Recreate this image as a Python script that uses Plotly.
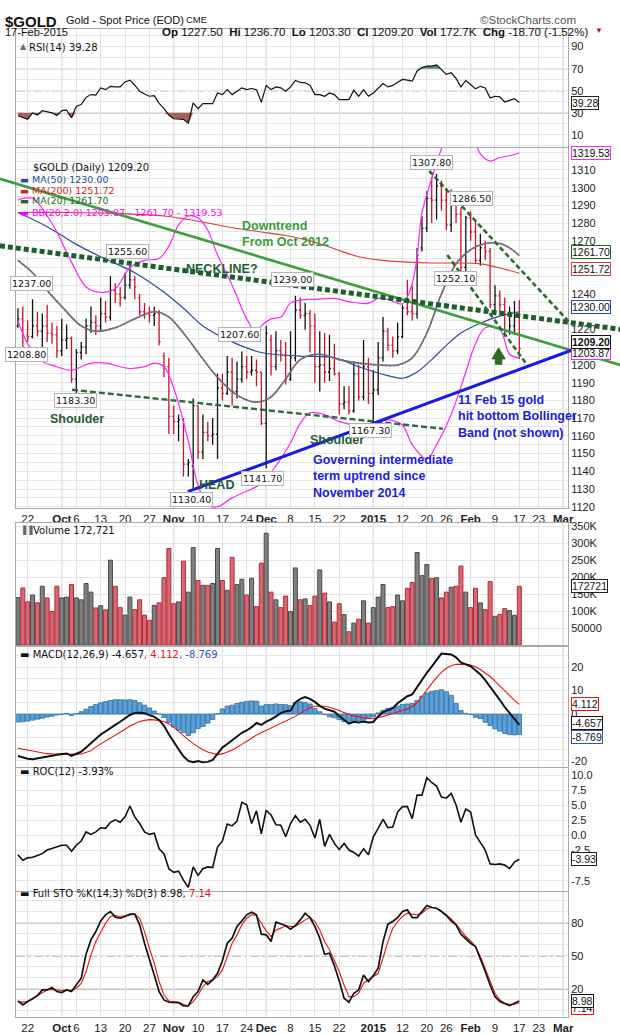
import pandas as pd
import plotly.graph_objects as go
from plotly.subplots import make_subplots

# ---------------- data ----------------
holidays = ["2014-11-27", "2014-12-25", "2015-01-01", "2015-01-19", "2015-02-16"]
axis_days = [d.strftime("%Y-%m-%d") for d in pd.bdate_range("2014-09-18", "2015-03-02")]
axis_days = [d for d in axis_days if d not in holidays]
dates = [d for d in axis_days if d <= "2015-02-17"]

opens = [1222, 1226, 1217, 1216, 1222, 1219, 1222, 1218, 1217, 1208, 1214, 1215, 1192, 1207, 1210, 1222, 1224, 1222, 1229, 1227,
         1242, 1240, 1238, 1245, 1248, 1238, 1230, 1229, 1228, 1229, 1205, 1199, 1171, 1168, 1169, 1144, 1143, 1177, 1151, 1162,
         1160, 1161, 1187, 1184, 1196, 1185, 1192, 1199, 1196, 1197, 1196, 1167, 1214, 1199, 1208, 1206, 1192, 1204, 1231, 1228,
         1229, 1222, 1199, 1200, 1196, 1198, 1195, 1178, 1179, 1174, 1195, 1182, 1199, 1184, 1186, 1204, 1219, 1211, 1208, 1216,
         1232, 1230, 1229, 1266, 1277, 1294, 1293, 1301, 1293, 1279, 1292, 1285, 1255, 1283, 1275, 1259, 1266, 1264, 1234, 1239,
         1234, 1219, 1222, 1227.5]
highs = [1232, 1233, 1225, 1237, 1230, 1229, 1234, 1224, 1222, 1226, 1223, 1216, 1209, 1213, 1226, 1233, 1228, 1238, 1236, 1250,
         1246, 1244, 1252, 1255.6, 1250, 1240, 1235, 1233, 1233, 1231, 1207, 1204, 1177, 1172, 1170, 1147, 1181, 1177, 1172, 1168,
         1170, 1195, 1195, 1205, 1204, 1202, 1207.6, 1205, 1205, 1203, 1196, 1222, 1217, 1219, 1214, 1213, 1219, 1239, 1238, 1235,
         1231, 1229, 1219, 1218, 1217, 1212, 1196, 1188, 1188, 1202, 1200, 1214, 1204, 1197, 1213, 1227, 1221, 1216, 1224, 1234,
         1248, 1245, 1266, 1284, 1298, 1306, 1307.8, 1304, 1300, 1299, 1296, 1289, 1284, 1286.5, 1281, 1274, 1270, 1266, 1245, 1242,
         1238, 1233, 1236, 1236.7]
lows = [1221, 1208.8, 1213, 1215, 1216, 1210, 1213, 1212, 1204, 1205, 1209, 1190, 1183.3, 1203, 1206, 1218, 1217, 1219, 1224, 1225,
        1235, 1233, 1237, 1243, 1237, 1228, 1226, 1224, 1222, 1211, 1193, 1161, 1161, 1157, 1137, 1137, 1130.4, 1147, 1147, 1157,
        1155, 1147, 1180, 1183, 1177, 1181, 1190, 1192, 1194, 1188, 1166, 1141.7, 1194, 1197, 1202, 1189, 1191, 1202, 1226, 1220,
        1207, 1190, 1185, 1190, 1191, 1194, 1172, 1175, 1172, 1173, 1180, 1180, 1178, 1167.3, 1183, 1202, 1208, 1204, 1206, 1215,
        1228, 1225, 1226, 1264, 1275, 1280, 1282, 1287, 1276, 1275, 1280, 1252.1, 1253, 1270, 1257, 1256, 1259, 1232, 1228, 1229,
        1216, 1217, 1217, 1203.3]
closes = [1226, 1217, 1216, 1222, 1219, 1222, 1218, 1217, 1208, 1214, 1215, 1192, 1207, 1210, 1222, 1224, 1222, 1229, 1227, 1242,
          1240, 1238, 1245, 1248, 1244, 1230, 1229, 1228, 1229, 1213, 1199, 1171, 1168, 1169, 1144, 1145, 1177, 1151, 1162, 1160,
          1161, 1187, 1184, 1196, 1185, 1192, 1199, 1196, 1197, 1196, 1167, 1218, 1199, 1208, 1206, 1192, 1204, 1231, 1228, 1229,
          1222, 1199, 1200, 1196, 1198, 1195, 1178, 1179, 1174, 1195, 1182, 1199, 1184, 1186, 1204, 1219, 1211, 1208, 1216, 1232,
          1230, 1229, 1262, 1277, 1294, 1293, 1301, 1293, 1279, 1292, 1285, 1255, 1283, 1275, 1259, 1266, 1264, 1234, 1239, 1234,
          1219, 1222, 1227.9, 1209.2]
volume_k = [139.5, 168, 127, 147, 124, 173, 138.6, 98.7, 173, 138.6, 141, 178, 138.6, 133, 181, 155.6, 109, 115.8, 103.4, 249.6,
            172.7, 110, 88, 141, 104, 133, 88, 73, 116.7, 124, 198, 283.8, 121.5, 127, 246.7, 155.6, 286.6, 189.8, 175.6, 175.6,
            181, 283.8, 189.8, 161, 258, 178, 193.6, 147, 196.4, 113, 241, 329, 155.6, 133, 110, 144, 98.7, 226.8, 133, 135.7,
            115.8, 144, 221, 152.8, 127, 67.4, 121.5, 90, 39, 64.5, 76, 130, 64.5, 110, 141, 178, 110, 113, 147, 130,
            167, 184, 272, 204, 237, 195.5, 198, 138.6, 155.6, 170, 172.7, 232.5, 155.6, 110, 167, 124, 104, 187, 84.5, 90,
            107, 101.5, 87.3, 172.721]
rsi = [27.3, 25.5, 24, 29.8, 28, 32, 31, 30, 27.5, 32, 32.5, 25.5, 36, 37.5, 44, 46.5, 46, 52.6, 51, 54,
       53.5, 53.5, 58, 59.6, 55, 49.5, 47, 45, 45.5, 38.5, 34, 28, 24.6, 24.6, 24, 20.5, 39, 33.7, 38.3, 38.3,
       38.3, 48, 46.5, 51, 46.5, 49.6, 52.6, 51, 52, 51, 39.5, 54.8, 51, 53.5, 52.6, 49.6, 53.5, 59.3, 57.5, 57.2,
       55, 46.5, 46.5, 45, 48, 46.5, 42, 42, 42, 50.5, 45, 51, 45, 48, 52.6, 56.6, 53.5, 54.8, 57.8, 60.2,
       59.6, 58.7, 67.9, 71, 72.4, 72.4, 73.4, 69.4, 64.8, 66.3, 61.2, 53.5, 59.3, 55.7, 51.7, 54, 52.6, 43.5, 45, 44.4,
       39.8, 41.3, 42.9, 39.28]
macd = [-17.9, -18.6, -19.1, -19.3, -19.0, -18.6, -18.2, -17.8, -17.4, -17.1, -16.8, -17.8, -17.0, -16.0, -14.3, -12.3, -10.3, -8.7, -7.4, -5.9,
        -4.6, -3.3, -1.8, -0.4, 0.5, 0.6, 0.3, -0.3, -1.2, -2.5, -5.0, -8.6, -12.0, -15.0, -18.0, -20.0, -20.5, -20.0, -20.6, -20.4,
        -19.6, -17.0, -14.3, -12.8, -11.3, -9.8, -8.0, -7.0, -5.6, -3.8, -4.6, -3.2, -2.3, -1.0, 0.4, 1.2, 1.5, 5.0, 6.5, 7.2,
        6.5, 5.2, 3.5, 2.3, 1.5, 1.0, -0.8, -2.5, -4.1, -3.3, -3.6, -3.2, -3.6, -3.4, -1.0, 0.8, 1.8, 2.5, 4.6, 6.2,
        7.6, 8.4, 11.5, 14.8, 17.6, 20.2, 23.0, 25.8, 25.6, 25.4, 24.2, 22.0, 21.2, 20.4, 18.7, 16.9, 14.5, 11.8, 8.9, 6.0,
        3.0, 0.5, -1.8, -4.657]
macd_signal = [-14.6, -15.0, -15.5, -16.0, -16.4, -16.7, -16.9, -17.0, -17.1, -17.2, -17.2, -17.3, -17.2, -17.0, -16.5, -15.7, -14.0, -12.8, -11.6, -10.3,
               -9.0, -7.8, -6.5, -5.1, -4.0, -3.2, -2.7, -2.4, -2.5, -2.8, -3.2, -4.2, -5.6, -7.4, -9.3, -11.0, -12.6, -14.0, -15.2, -16.2,
               -16.9, -17.3, -17.0, -16.2, -15.3, -14.2, -13.0, -11.6, -10.3, -8.9, -7.9, -7.0, -6.1, -5.1, -4.2, -3.2, -2.2, -1.0, 0.4, 1.7,
               2.8, 3.3, 3.4, 3.3, 2.9, 2.3, 1.5, 0.6, -0.2, -0.8, -1.2, -1.6, -1.9, -2.0, -1.6, -1.0, -0.4, 0.2, 0.8, 1.5,
               2.2, 3.2, 4.8, 7.5, 10.5, 13.0, 15.5, 17.8, 19.5, 20.6, 21.2, 21.4, 21.3, 20.9, 20.2, 19.0, 17.6, 16.0, 14.0, 12.0,
               9.6, 7.8, 5.8, 4.112]
macd_hist = [-3.4, -3.3, -3.0, -2.6, -2.2, -1.8, -1.3, -0.9, -0.4, -0.1, 0.3, -0.6, 0.2, 1.0, 2.1, 3.2, 4.1, 4.8, 5.3, 5.8,
             6.1, 6.1, 6.0, 6.1, 5.8, 4.8, 3.8, 2.6, 1.3, 0.0, -1.5, -3.6, -5.5, -6.9, -7.9, -9.2, -8.0, -6.2, -5.3, -3.9,
             -2.3, 0.2, 2.2, 3.4, 3.8, 4.5, 5.0, 5.4, 5.6, 5.5, 3.4, 4.1, 4.0, 4.3, 4.1, 4.0, 3.6, 4.9, 5.2, 4.9,
             4.3, 2.3, 1.0, -0.2, -1.2, -1.6, -2.4, -3.2, -3.6, -3.2, -2.8, -2.6, -2.0, -1.2, 0.5, 1.6, 2.4, 2.9, 3.4, 4.1,
             4.3, 4.5, 5.8, 7.6, 9.0, 9.6, 10.0, 10.4, 9.5, 8.0, 4.5, 1.5, 0.3, -0.2, -1.4, -2.0, -3.5, -4.9, -6.3, -7.3,
             -8.3, -8.8, -8.9, -8.769]
roc = [-3.2, -4.1, -3.7, -3.6, -3.3, -3.0, -2.4, -2.1, -1.8, -1.6, -1.6, -2.6, -1.6, -0.9, 0.6, 0.2, 0.6, 1.3, 1.2, 2.2,
       2.6, 2.2, 3.1, 4.9, 3.1, 2.0, 0.6, 0.2, 0.4, -2.2, -3.0, -5.5, -6.1, -5.9, -7.4, -8.6, -5.2, -6.6, -5.5, -5.2,
       -5.3, -1.9, -0.9, 1.9, 1.6, 2.4, 5.5, 5.1, 2.0, 4.1, 0.3, 4.2, 3.4, 1.8, 1.7, -0.2, 2.0, 3.3, 2.2, 2.7,
       1.7, -0.4, 2.7, -1.8, 0.2, -1.3, -2.3, -1.3, -2.4, -2.8, -3.4, -2.2, -3.2, -0.2, 1.2, 2.7, 1.3, 1.4, 3.9, 4.8,
       4.8, 2.8, 6.7, 6.7, 9.6, 8.8, 8.2, 6.4, 6.2, 7.0, 5.1, 2.2, 4.4, 3.9, 0.1, -1.1, -2.4, -4.7, -4.8, -4.7,
       -4.9, -5.5, -4.4, -3.93]
sto_k = [9.1, 5.5, 8.5, 11.5, 13.9, 19.1, 19.1, 21.2, 17.6, 16.7, 19.1, 17.6, 23.6, 29.7, 51.8, 64.5, 72.1, 81.8, 87.3, 90.3,
         85.2, 84.2, 85.8, 87.9, 87.9, 78.2, 61.5, 47.9, 32.7, 17.6, 10, 7.9, 7.9, 7.6, 4.5, 4.5, 13, 17.6, 28.2, 24.2,
         28.2, 34.2, 45.5, 61.5, 66.1, 76.7, 81.8, 87.3, 89.7, 87.3, 69.7, 69.1, 63, 80.6, 79.1, 77.3, 74.2, 77.6, 82.7, 88.8,
         84.8, 76.7, 66.1, 51.5, 52.4, 41.2, 27.3, 11.5, 7.9, 16.1, 19.1, 32.7, 26.7, 32.1, 38.8, 63, 78.8, 81.2, 84.8, 90.3,
         91.8, 84.8, 84.8, 90.3, 95.8, 93.9, 93.3, 90.3, 86.7, 81.8, 78.2, 69.7, 65.5, 61.5, 58.5, 47.9, 35.8, 23.6, 13, 8.5,
         7, 4.8, 7, 8.98]
sto_d = [8.5, 8.0, 8.5, 10.5, 14, 16.5, 19, 19.5, 19, 18.5, 19, 18.5, 20.6, 25, 35.8, 50.9, 63, 72, 79.7, 85.8,
         86.7, 85.8, 86.7, 87.3, 87.9, 84.2, 72, 57, 43.3, 26.7, 14.5, 9.1, 8.5, 7.9, 6.1, 4.5, 8.5, 14.5, 22, 26.7,
         28.2, 31.2, 37.3, 49.4, 61.5, 69, 78.2, 84.2, 87.3, 86.7, 79.7, 72.7, 67.6, 73.6, 75.2, 77.6, 76.7, 76.7, 79.7, 82.7,
         84.8, 81.2, 73.6, 63, 55.5, 46.4, 35.8, 23.6, 13, 13, 16.1, 25.2, 28.2, 31.2, 34.2, 47.9, 63, 75.2, 81.2, 85.8,
         88.8, 87.9, 87.3, 88.8, 92.7, 94.2, 93.3, 90.9, 87.3, 83.6, 78.8, 72.7, 67.6, 63.6, 58.5, 49.4, 38.8, 26.7, 16.1, 10,
         7, 6.1, 6.1, 7.14]

# smooth overlays, read at selected trading days (position in `dates`)
ma200_at = [0, 10, 20, 30, 35, 40, 45, 50, 55, 60, 65, 70, 75, 80, 85, 90, 95, 100, 103]
ma200 = [1286, 1286, 1285.5, 1284, 1282, 1279.5, 1277, 1275, 1273, 1270, 1265.5, 1261, 1259, 1258, 1257.5, 1257.5, 1257, 1254, 1251.72]
ma50_at = [0, 6, 12, 17, 24, 30, 34, 38, 44, 50, 58, 65, 70, 76, 79, 82, 85, 88, 91, 95, 99, 103]
ma50 = [1286, 1278, 1268, 1261, 1252, 1241, 1232, 1222, 1213, 1207, 1205, 1204, 1199, 1194, 1192.5, 1196, 1203, 1211, 1218, 1223.5, 1227.5, 1230.0]
ma20_at = [0, 3, 6, 9, 13, 16, 20, 24, 28, 31, 34, 37, 41, 45, 49, 52, 55, 58, 62, 66, 70, 74, 78, 81, 84, 87, 90, 93, 96, 99, 101, 103]
ma20 = [1259, 1252, 1242, 1233, 1222, 1219, 1221, 1226, 1230, 1227, 1218, 1207, 1193, 1183, 1179, 1182, 1192, 1203, 1206, 1203, 1201, 1200,
        1200, 1204, 1218, 1240, 1257, 1265, 1268.5, 1268.5, 1266, 1261.7]
bb_up_at = [0, 3, 6, 8, 11, 14, 17, 20, 23, 26, 29, 31, 33, 35, 37, 39, 41, 44, 47, 49, 50, 52, 54, 56, 58, 61, 65, 68, 72, 74, 76, 79,
            81, 82, 83, 85, 87, 89, 91, 93, 95, 97, 99, 101, 103]
bb_up = [1293, 1294, 1284, 1275, 1258, 1244, 1241, 1243, 1255, 1259, 1260, 1267, 1279, 1284, 1283, 1276, 1262, 1245, 1226, 1218, 1222, 1226,
         1227, 1235, 1236.6, 1237, 1237.5, 1235.7, 1234.7, 1237.5, 1237, 1234.5, 1246, 1261, 1285.7, 1305, 1322, 1338, 1342, 1334, 1319,
         1315, 1317, 1318, 1319.53]
bb_lo_at = [0, 2, 5, 8, 11, 15, 18, 23, 26, 28, 30, 32, 35, 37, 39, 41, 44, 48, 50, 53, 56, 58, 60, 63, 66, 70, 73, 76, 79, 81, 84, 86,
            89, 92, 94, 96, 99, 101, 103]
bb_lo = [1225, 1212, 1202, 1199, 1197, 1201, 1201, 1198, 1199, 1201, 1199, 1187, 1157, 1132, 1121, 1120, 1125, 1130, 1133, 1143, 1156, 1167,
         1173, 1172, 1168, 1166, 1167, 1169, 1166, 1155, 1147, 1155, 1172, 1196, 1212, 1221, 1220, 1206, 1203.87]

tick_dates = ["2014-09-22", "2014-10-01", "2014-10-06", "2014-10-13", "2014-10-20", "2014-10-27", "2014-11-03", "2014-11-10",
              "2014-11-17", "2014-11-24", "2014-12-01", "2014-12-08", "2014-12-15", "2014-12-22", "2015-01-02", "2015-01-12",
              "2015-01-20", "2015-01-26", "2015-02-02", "2015-02-09", "2015-02-17", "2015-02-23", "2015-03-02"]
tick_text = ["22", "<b>Oct</b>", "6", "13", "20", "27", "<b>Nov</b>", "10", "17", "24", "<b>Dec</b>", "8", "15", "22",
             "<b>2015</b>", "12", "20", "26", "<b>Feb</b>", "9", "17", "23", "<b>Mar</b>"]
month_starts = ["2014-10-01", "2014-11-03", "2014-12-01", "2015-01-02", "2015-02-02", "2015-03-02"]

# ---------------- layout helpers ----------------
W, H = 620, 1034
ML, MR, MT, MB = 16, 52, 29, 17
pos = {d: i for i, d in enumerate(axis_days)}
xi = list(range(len(dates)))
X0, X1 = -0.4, 113.0
dom = {1: (0.8806, 1.0), 2: (0.5152, 0.8796), 3: (0.3765, 0.5),
       4: (0.2530, 0.3745), 5: (0.1275, 0.2520), 6: (0.0, 0.1265)}
yrange = {1: (-1, 106), 2: (1119.3, 1322.4), 3: (0, 359000), 4: (-22.6, 28.6), 5: (-9.2, 11.2), 6: (-5.5, 108)}


def px(x):
    return (x - ML) / (W - ML - MR)


def py(y):
    return (H - MB - y) / (H - MT - MB)


def price_pt(i, p):
    lo, hi = yrange[2]
    return (i - X0) / (X1 - X0), dom[2][0] + (p - lo) / (hi - lo) * (dom[2][1] - dom[2][0])


up = [True] + [closes[i] >= closes[i - 1] for i in range(1, len(closes))]
BLACK, RED = "#111111", "#d0102c"

fig = make_subplots(rows=6, cols=1, shared_xaxes=True, vertical_spacing=0)

# RSI
fig.add_trace(go.Scatter(x=xi, y=[30] * len(xi), mode="lines", line=dict(width=0), hoverinfo="skip"), row=1, col=1)
fig.add_trace(go.Scatter(x=xi, y=[min(v, 30) for v in rsi], mode="lines", line=dict(width=0),
                         fill="tonexty", fillcolor="#a5625e"), row=1, col=1)
fig.add_trace(go.Scatter(x=xi, y=[70] * len(xi), mode="lines", line=dict(width=0), hoverinfo="skip"), row=1, col=1)
fig.add_trace(go.Scatter(x=xi, y=[max(v, 70) for v in rsi], mode="lines", line=dict(width=0),
                         fill="tonexty", fillcolor="#5f8f5f"), row=1, col=1)
fig.add_trace(go.Scatter(x=xi, y=rsi, mode="lines", line=dict(color="#111", width=1.2)), row=1, col=1)

# price overlays
fig.add_trace(go.Scatter(x=ma200_at, y=ma200, mode="lines", line=dict(color="#e8383a", width=1.1, shape="spline")), row=2, col=1)
fig.add_trace(go.Scatter(x=ma50_at, y=ma50, mode="lines", line=dict(color="#2a4a9a", width=1.2, shape="spline")), row=2, col=1)
fig.add_trace(go.Scatter(x=bb_up_at, y=bb_up, mode="lines", line=dict(color="#ff22ff", width=1.2, shape="spline")), row=2, col=1)
fig.add_trace(go.Scatter(x=bb_lo_at, y=bb_lo, mode="lines", line=dict(color="#ff22ff", width=1.2, shape="spline")), row=2, col=1)
fig.add_trace(go.Scatter(x=ma20_at, y=ma20, mode="lines", line=dict(color="#3d8a3d", width=1.6, shape="spline")), row=2, col=1)
fig.add_trace(go.Scatter(x=ma20_at, y=ma20, mode="lines",
                         line=dict(color="#c040c0", width=1.6, shape="spline", dash="2px,2px")), row=2, col=1)

# OHLC bars, coloured by close versus previous close
for flag, col in ((True, BLACK), (False, RED)):
    idx = [i for i in xi if up[i] == flag]
    fig.add_trace(go.Ohlc(x=idx, open=[opens[i] for i in idx], high=[highs[i] for i in idx],
                          low=[lows[i] for i in idx], close=[closes[i] for i in idx],
                          increasing=dict(line=dict(color=col, width=1.3)),
                          decreasing=dict(line=dict(color=col, width=1.3)),
                          tickwidth=0.3, hoverinfo="skip"), row=2, col=1)

# volume
fig.add_trace(go.Bar(x=xi, y=[v * 1000 for v in volume_k], width=0.82,
                     marker=dict(color=["#808080" if u else "#d46a72" for u in up],
                                 line=dict(color=["#4a4a4a" if u else "#b8283c" for u in up], width=1))), row=3, col=1)

# MACD
fig.add_trace(go.Bar(x=xi, y=macd_hist, width=0.9,
                     marker=dict(color="#5b9fd6", line=dict(color="#2f6ea6", width=0.8))), row=4, col=1)
fig.add_trace(go.Scatter(x=xi, y=macd_signal, mode="lines", line=dict(color="#ee1111", width=1.1)), row=4, col=1)
fig.add_trace(go.Scatter(x=xi, y=macd, mode="lines", line=dict(color="#111", width=2)), row=4, col=1)

# ROC
fig.add_trace(go.Scatter(x=xi, y=roc, mode="lines", line=dict(color="#111", width=1.6)), row=5, col=1)

# Full stochastics
fig.add_trace(go.Scatter(x=xi, y=sto_d, mode="lines", line=dict(color="#ee1111", width=1.1)), row=6, col=1)
fig.add_trace(go.Scatter(x=xi, y=sto_k, mode="lines", line=dict(color="#111", width=1.7)), row=6, col=1)

# ---------------- axes ----------------
tickvals = [pos[d] for d in tick_dates]
fig.update_xaxes(range=[X0, X1], tickmode="array", tickvals=tickvals, ticktext=tick_text, tickangle=0,
                 automargin=False, showgrid=True, gridcolor="#e2e2e2", gridwidth=1, zeroline=False,
                 showline=True, mirror=True, linecolor="#a8a8a8", ticks="",
                 tickfont=dict(family="Arial", size=11.5, color="#222"), rangeslider_visible=False)
for r in (1, 3, 4, 5):
    fig.update_xaxes(showticklabels=False, row=r, col=1)
fig.update_xaxes(showticklabels=True, row=2, col=1)
fig.update_xaxes(showticklabels=True, row=6, col=1)

# tick labels hidden under the last-value boxes are left blank
ytick = {
    1: ([v for v in range(0, 101, 10)], lambda v: str(v) if v in (10, 30, 50, 70, 90) else ""),
    2: ([v for v in range(1120, 1325, 5)],
        lambda v: str(v) if v % 10 == 0 and v not in (1210, 1230, 1250, 1260, 1320) else ""),
    3: ([v for v in range(0, 350001, 50000)], lambda v: "" if v == 0 else ("50000" if v == 50000 else f"{v // 1000}K")),
    4: ([v for v in range(-20, 26, 5)], lambda v: str(v) if v in (-20, 0, 10, 20) else ""),
    5: ([-7.5 + 2.5 * k for k in range(8)], lambda v: "" if v == -5 else f"{v:.1f}"),
    6: ([v for v in range(0, 101, 10)], lambda v: str(v) if v in (20, 50, 80) else ""),
}
for r in range(1, 7):
    vals, fmt = ytick[r]
    fig.update_yaxes(domain=list(dom[r]), range=list(yrange[r]), side="right", tickmode="array", tickvals=vals,
                     ticktext=[fmt(v) for v in vals], showgrid=True, gridcolor="#e6e6e6", zeroline=False,
                     automargin=False, showline=True, mirror=True, linecolor="#a8a8a8", ticks="",
                     tickfont=dict(family="Arial", size=11, color="#222"), row=r, col=1)

for d in month_starts:
    for r in range(1, 7):
        fig.add_vline(x=pos[d], line=dict(color="#bdbdbd", width=1), layer="below", row=r, col=1)

for r, level, dash in ((1, 70, "solid"), (1, 30, "solid"), (1, 50, "dashdot"), (5, 0, "dashdot"),
                       (6, 80, "solid"), (6, 20, "solid"), (6, 50, "dashdot")):
    fig.add_hline(y=level, line=dict(color="#6a6a6a", width=1, dash=dash), layer="below", row=r, col=1)

# ---------------- hand-drawn trend lines on the price panel ----------------
trend_lines = [
    ((-3.7, 1305), (123.7, 1200), "#3f9f3f", 2.6, "solid"),
    ((-3.7, 1267.2), (123.7, 1220.1), "#1d5e2e", 5, "5px,3px"),
    ((11.1, 1186), (87.3, 1164), "#2d6b3d", 2.4, "6px,3px"),
    ((34.9, 1128.5), (115.1, 1209.7), "#1a1ae8", 3, "solid"),
    ((84.5, 1309.4), (113.4, 1223.7), "#2d6b2d", 2.6, "5px,3px"),
    ((88.2, 1262), (104.6, 1200), "#2d6b2d", 2.6, "5px,3px"),
]
for a, b, col, w, dash in trend_lines:
    xa, ya = price_pt(*a)
    xb, yb = price_pt(*b)
    fig.add_shape(type="line", xref="paper", yref="paper", x0=xa, y0=ya, x1=xb, y1=yb,
                  line=dict(color=col, width=w, dash=dash), layer="above")

arrow = [(97.4, 1203.4), (98.75, 1209.6), (100.1, 1203.4), (99.4, 1203.4), (99.4, 1200.4), (98.1, 1200.4), (98.1, 1203.4)]
pts = [price_pt(i, p) for i, p in arrow]
fig.add_shape(type="path", xref="paper", yref="paper", fillcolor="#2f6b22", line=dict(color="#2f6b22", width=1),
              path="M " + " L ".join(f"{x:.5f},{y:.5f}" for x, y in pts) + " Z")

notes = [
    ("<b>Downtrend<br>From Oct 2012</b>", 45.6, 1273.9, "#3c9a3c", "left"),
    ("<b>NECKLINE?</b>", 41.9, 1254.2, "#1e5e32", "center"),
    ("<b>Shoulder</b>", 12.1, 1169.6, "#1e5e32", "center"),
    ("<b>HEAD</b>", 40.7, 1132, "#1e5e32", "center"),
    ("<b>Shoulder</b>", 65.6, 1157.8, "#1e5e32", "center"),
    ("<b>Governing intermediate<br>term uptrend since<br>November 2014</b>", 60.2, 1137, "#2020e0", "left"),
    ("<b>11 Feb 15 gold<br>hit bottom Bollinger<br>Band (not shown)</b>", 90, 1170.8, "#2020e0", "left"),
]
for txt, i, p, col, anchor in notes:
    fig.add_annotation(x=i, y=p, xref="x2", yref="y2", text=txt, showarrow=False, xanchor=anchor, align="left",
                       font=dict(family="Arial", size=12.5, color=col))

point_labels = [("1237.00", 2.7, 1246), ("1208.80", 1.8, 1205.7), ("1183.30", 11.9, 1180), ("1255.60", 22.5, 1263.8),
                ("1130.40", 35.6, 1124), ("1207.60", 45.6, 1217), ("1141.70", 50.3, 1135.8), ("1239.00", 56.3, 1248),
                ("1167.30", 72.5, 1162.8), ("1307.80", 85.0, 1314.2), ("1286.50", 93.2, 1294), ("1252.10", 89.8, 1248.6)]
for txt, i, p in point_labels:
    fig.add_annotation(x=i, y=p, xref="x2", yref="y2", text=txt, showarrow=False, bgcolor="white",
                       bordercolor="#b4b4b4", borderwidth=1, borderpad=1, font=dict(family="DejaVu Sans", size=9.5, color="#111"))

# ---------------- last-value boxes on the right ----------------
boxes = [
    (1, rsi[-1], f"{rsi[-1]:.2f}", "#222", 0),
    (2, bb_up[-1], f"{bb_up[-1]:.2f}", "#ff22ff", 0),
    (2, ma20[-1], f"{ma20[-1]:.2f}", "#1a6b1a", 4),
    (2, ma200[-1], f"{ma200[-1]:.2f}", "#e8383a", 4),
    (2, ma50[-1], f"{ma50[-1]:.2f}", "#2a4a9a", 5),
    (2, bb_lo[-1], f"{bb_lo[-1]:.2f}", "#ff22ff", 5),
    (2, closes[-1], f"<b>{closes[-1]:.2f}</b>", "#111", 7),
    (3, volume_k[-1] * 1000, f"{volume_k[-1] * 1000:.0f}", "#222", 0),
    (4, macd_signal[-1], f"{macd_signal[-1]:.3f}", "#ee1111", 0),
    (4, macd_hist[-1], f"{macd_hist[-1]:.3f}", "#3355cc", -2),
    (4, macd[-1], f"{macd[-1]:.3f}", "#111", 2),
    (5, roc[-1], f"{roc[-1]:.2f}", "#222", 0),
    (6, sto_d[-1], f"{sto_d[-1]:.2f}", "#ee1111", -5),
    (6, sto_k[-1], f"{sto_k[-1]:.2f}", "#111", 0),
]
for r, v, txt, col, shift in boxes:
    fig.add_annotation(x=px(571), y=v, xref="paper", yref=f"y{r}" if r > 1 else "y", text=txt, showarrow=False,
                       xanchor="left", yshift=shift, bgcolor="white", bordercolor=col, borderwidth=1, borderpad=0,
                       font=dict(family="Arial", size=10.5, color="#111"))

# ---------------- header and panel legends ----------------
chg = closes[-1] - closes[-2]
header = [
    ("<b>$GOLD</b>", 3, 11, 15, "#111", "left"),
    ("Gold - Spot Price (EOD)", 64, 12, 11, "#111", "left"),
    ("CME", 184, 12, 9.5, "#111", "left"),
    ("©StockCharts.com", 578, 12, 11.5, "#555", "right"),
    ("17-Feb-2015", 3, 24, 11, "#111", "left"),
    (f"<b>Op</b> {opens[-1]:.2f}  <b>Hi</b> {highs[-1]:.2f}  <b>Lo</b> {lows[-1]:.2f}  <b>Cl</b> {closes[-1]:.2f}  "
     f"<b>Vol</b> {volume_k[-1]:.1f}K  <b>Chg</b> {chg:.2f} ({chg / closes[-2] * 100:.2f}%)", 590, 24, 11.5, "#111", "right"),
    ("▼", 593, 24, 8, "#cc1122", "left"),
]
for txt, x, y, size, col, anchor in header:
    fig.add_annotation(x=px(x), y=py(y), xref="paper", yref="paper", text=txt, showarrow=False, xanchor=anchor,
                       font=dict(family="Arial", size=size, color=col))

legends = [
    ("▲", 18, 40, 8, "#4f7f4f"),
    (f"RSI(14) {rsi[-1]:.2f}", 27, 40, 10, "#111"),
    (f"$GOLD (Daily) {closes[-1]:.2f}", 31, 160, 10, "#111"),
    (f"▬ MA(50) {ma50[-1]:.2f}", 18, 171.5, 9.5, "#2a4a9a"),
    (f"▬ MA(200) {ma200[-1]:.2f}", 18, 182.5, 9.5, "#e02020"),
    (f"▬ MA(20) {ma20[-1]:.2f}", 18, 193.5, 9.5, "#1a6b1a"),
    (f"▬ BB(20,2.0) {bb_lo[-1]:.2f} - {ma20[-1]:.2f} - {bb_up[-1]:.2f}", 18, 205, 9.5, "#ff00ff"),
    ("▐▐", 18, 530, 8, "#666"),
    (f"Volume {volume_k[-1] * 1000:,.0f}", 31, 530, 10, "#111"),
    (f"▬ MACD(12,26,9) {macd[-1]:.3f}<span style='color:#ee1111'>, {macd_signal[-1]:.3f}</span>"
     f"<span style='color:#3355cc'>, {macd_hist[-1]:.3f}</span>", 18, 654, 10, "#111"),
    (f"▬ ROC(12) {roc[-1]:.2f}%", 18, 779, 10, "#111"),
    (f"▬ Full STO %K(14,3) %D(3) {sto_k[-1]:.2f}, <span style='color:#ee1111'>{sto_d[-1]:.2f}</span>", 18, 901, 10, "#111"),
]
for txt, x, y, size, col in legends:
    fig.add_annotation(x=px(x), y=py(y), xref="paper", yref="paper", text=txt, showarrow=False, xanchor="left",
                       font=dict(family="DejaVu Sans", size=size, color=col))

fig.update_layout(width=W, height=H, margin=dict(l=ML, r=MR, t=MT, b=MB, autoexpand=False), showlegend=False,
                  plot_bgcolor="white", paper_bgcolor="white", font=dict(family="Arial"))

# the page's default body margin would push the 620px figure off the window
fig.write_html("out.html", config={"displayModeBar": False},
               post_script="document.body.style.margin='0px';")
